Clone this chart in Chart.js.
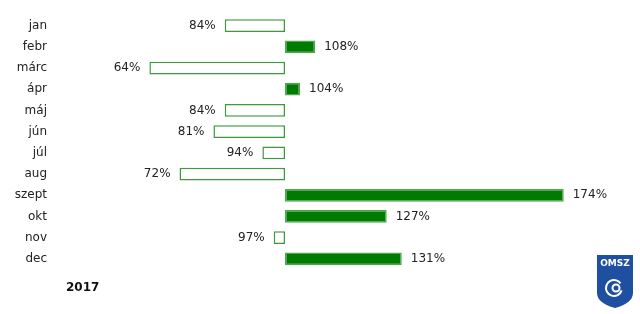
<!DOCTYPE html>
<html lang="hu">
  <head>
    <meta charset="UTF-8" />
    <title>Csapadék 2017</title>
    <script src="https://cdn.jsdelivr.net/npm/chart.js"></script>
    <style>
      html, body { margin: 0; padding: 0; background: #fff; }
      #wrap { width: 640px; height: 314px; position: relative; }
    </style>
  </head>
  <body>
    <div id="wrap"><canvas id="myChart"></canvas></div>
    <script>
      // havi értékek, a sokéves átlag %-ában
      const months = ["jan", "febr", "márc", "ápr", "máj", "jún", "júl", "aug", "szept", "okt", "nov", "dec"];
      const percents = [84, 108, 64, 104, 84, 81, 94, 72, 174, 127, 97, 131];
      const baseline = 100;
      const yearLabel = "2017";

      const FONT = "'DejaVu Sans', Verdana, sans-serif";
      const GREEN = "#007a00";

      const fills = percents.map((v) => (v >= baseline ? GREEN : "#ffffff"));
      const borders = percents.map((v) => (v >= baseline ? "#4fa84f" : "#3c9a3c"));

      // százalék feliratok a sávok végénél + évszám + logó
      const labelsPlugin = {
        id: "labels",
        afterDatasetsDraw(chart) {
          const c = chart.ctx;
          const xs = chart.scales.x;
          const meta = chart.getDatasetMeta(0);
          c.save();
          c.font = "12px " + FONT;
          c.fillStyle = "#222";
          c.textBaseline = "middle";
          percents.forEach((v, i) => {
            const y = meta.data[i].y;
            const px = xs.getPixelForValue(v);
            if (v >= baseline) {
              c.textAlign = "left";
              c.fillText(v + "%", px + 9, y);
            } else {
              c.textAlign = "right";
              c.fillText(v + "%", px - 9, y);
            }
          });
          c.font = "bold 12px " + FONT;
          c.textAlign = "left";
          c.fillStyle = "#111";
          c.fillText(yearLabel, 66, 288);

          // OMSZ logó (egyszerűsített pajzs)
          c.fillStyle = "#1f4fa0";
          c.beginPath();
          c.moveTo(597, 255);
          c.lineTo(633, 255);
          c.lineTo(633, 293);
          c.quadraticCurveTo(633, 303, 615, 308);
          c.quadraticCurveTo(597, 303, 597, 293);
          c.closePath();
          c.fill();
          c.fillStyle = "#fff";
          c.font = "bold 9px " + FONT;
          c.textAlign = "center";
          c.fillText("OMSZ", 615, 264);
          c.strokeStyle = "#fff";
          c.lineWidth = 2;
          c.beginPath();
          c.arc(614, 288, 8, 0.3, Math.PI * 1.8);
          c.stroke();
          c.beginPath();
          c.arc(616, 288, 3.5, 0, Math.PI * 2);
          c.stroke();
          c.restore();
        },
      };

      const ctx = document.getElementById("myChart").getContext("2d");
      const myChart = new Chart(ctx, {
        type: "bar",
        data: {
          labels: months,
          datasets: [
            {
              data: percents.map((v) => [baseline, v]),
              backgroundColor: fills,
              borderColor: borders,
              borderWidth: 1.5,
              borderSkipped: false,
              barPercentage: 1,
              categoryPercentage: 0.6,
            },
          ],
        },
        options: {
          indexAxis: "y",
          responsive: true,
          maintainAspectRatio: false,
          animation: false,
          layout: { padding: { top: 15, bottom: 44.5, left: 0, right: 16 } },
          plugins: {
            legend: { display: false },
            tooltip: { enabled: false },
          },
          scales: {
            x: { display: false, min: 40, max: 190 },
            y: {
              grid: { display: false, drawTicks: false },
              border: { display: false },
              ticks: {
                color: "#222",
                padding: 12,
                font: { family: FONT, size: 12 },
              },
              afterFit(scale) {
                scale.width = 59;
                scale.paddingTop = 0;
                scale.paddingBottom = 0;
              },
            },
          },
        },
        plugins: [labelsPlugin],
      });
    </script>
  </body>
</html>
